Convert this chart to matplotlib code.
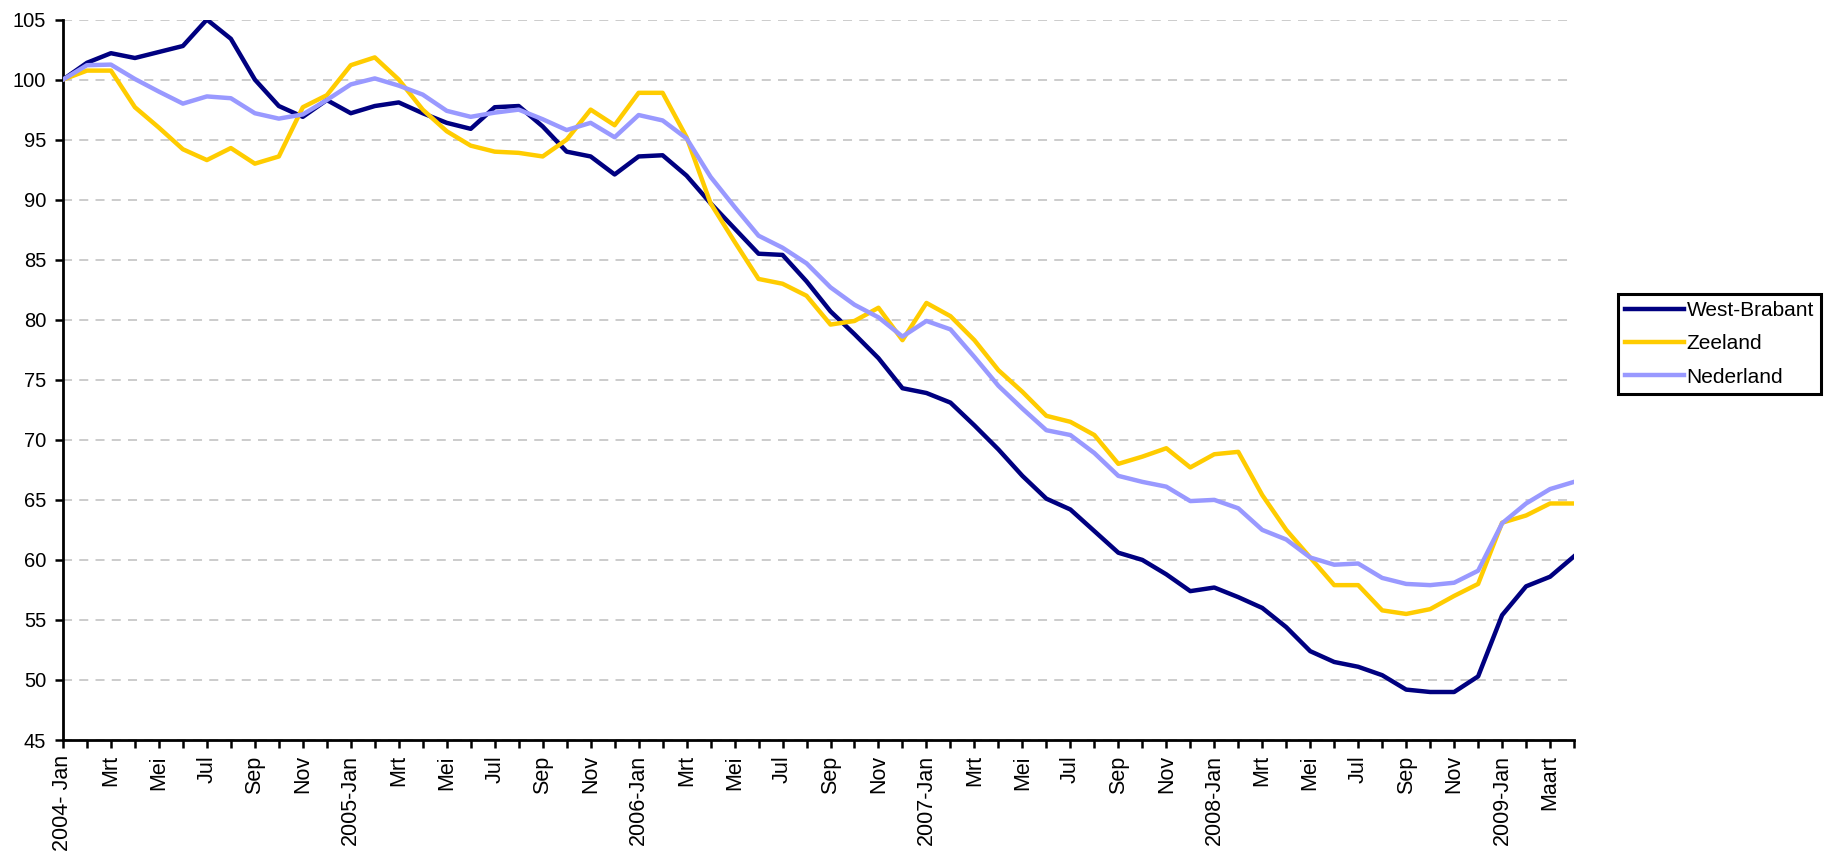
import numpy as np
import matplotlib.pyplot as plt

# maanden (labels om de twee maanden)
maand_labels = ['2004- Jan', 'Mrt', 'Mei', 'Jul', 'Sep', 'Nov',
                '2005-Jan', 'Mrt', 'Mei', 'Jul', 'Sep', 'Nov',
                '2006-Jan', 'Mrt', 'Mei', 'Jul', 'Sep', 'Nov',
                '2007-Jan', 'Mrt', 'Mei', 'Jul', 'Sep', 'Nov',
                '2008-Jan', 'Mrt', 'Mei', 'Jul', 'Sep', 'Nov',
                '2009-Jan', 'Maart']

west_brabant = [100.0, 101.4, 102.2, 101.8, 102.3, 102.8, 105.0, 103.4, 100.0, 97.8,
                96.9, 98.3, 97.2, 97.8, 98.1, 97.2, 96.4, 95.9, 97.7, 97.8,
                96.1, 94.0, 93.6, 92.1, 93.6, 93.7, 92.0, 89.7, 87.6, 85.5,
                85.4, 83.2, 80.7, 78.8, 76.8, 74.3, 73.9, 73.1, 71.2, 69.2,
                67.0, 65.1, 64.2, 62.4, 60.6, 60.0, 58.8, 57.4, 57.7, 56.9,
                56.0, 54.4, 52.4, 51.5, 51.1, 50.4, 49.2, 49.0, 49.0, 50.3,
                55.4, 57.8, 58.6, 60.3]

zeeland = [100.0, 100.75, 100.75, 97.7, 96.0, 94.2, 93.3, 94.3, 93.0, 93.6,
           97.7, 98.7, 101.2, 101.85, 100.0, 97.5, 95.7, 94.5, 94.0, 93.9,
           93.6, 95.0, 97.5, 96.2, 98.9, 98.9, 95.2, 89.7, 86.5, 83.4,
           83.0, 82.0, 79.6, 79.9, 81.0, 78.3, 81.4, 80.3, 78.3, 75.8,
           74.0, 72.0, 71.5, 70.4, 68.0, 68.6, 69.3, 67.7, 68.8, 69.0,
           65.4, 62.5, 60.2, 57.9, 57.9, 55.8, 55.5, 55.9, 57.0, 58.0,
           63.1, 63.7, 64.7, 64.7]

nederland = [100.0, 101.2, 101.25, 100.05, 99.0, 98.0, 98.6, 98.45, 97.2, 96.75,
             97.1, 98.3, 99.6, 100.1, 99.5, 98.75, 97.4, 96.9, 97.25, 97.5,
             96.7, 95.8, 96.4, 95.2, 97.05, 96.6, 95.1, 91.9, 89.4, 87.0,
             86.0, 84.7, 82.7, 81.25, 80.2, 78.6, 79.9, 79.2, 76.9, 74.5,
             72.6, 70.8, 70.4, 68.9, 67.0, 66.5, 66.1, 64.9, 65.0, 64.3,
             62.5, 61.7, 60.2, 59.6, 59.7, 58.5, 58.0, 57.9, 58.1, 59.1,
             63.05, 64.7, 65.9, 66.5]

plt.rcParams['font.family'] = ['Liberation Sans', 'DejaVu Sans']

x = np.arange(len(west_brabant))

fig = plt.figure(figsize=(18.25, 8.51), dpi=100)
ax = fig.add_axes([0.0345, 0.1304, 0.828, 0.8466])

ax.plot(x, west_brabant, color='#000080', linewidth=3.2, label='West-Brabant', zorder=3)
ax.plot(x, zeeland, color='#FFCC00', linewidth=3.2, label='Zeeland', zorder=3)
ax.plot(x, nederland, color='#9999FF', linewidth=3.2, label='Nederland', zorder=3)

ax.set_xlim(0, len(x) - 1)
ax.set_ylim(45, 105)
ax.set_yticks(np.arange(45, 106, 5))
ax.set_xticks(x)
labels = []
for i in x:
    labels.append(maand_labels[i // 2] if i % 2 == 0 else '')
ax.set_xticklabels(labels, rotation=90, fontsize=15.5)
ax.tick_params(axis='y', labelsize=14.5, length=6, width=1.8, direction='out', pad=6)
ax.tick_params(axis='x', length=6, width=1.8, direction='out', pad=5)

ax.grid(axis='y', color='#C8C8C8', linestyle='--', linewidth=1.3, dashes=(5, 4))
ax.set_axisbelow(True)
for s in ['top', 'right']:
    ax.spines[s].set_visible(False)
for s in ['left', 'bottom']:
    ax.spines[s].set_linewidth(2)

leg = fig.legend(loc='upper left', bbox_to_anchor=(1618 / 1825, 1 - 294 / 851),
                 bbox_transform=fig.transFigure, fontsize=15,
                 frameon=True, fancybox=False, handlelength=2.8, handletextpad=0.15,
                 borderpad=0.35, labelspacing=0.68, borderaxespad=0)
leg.get_frame().set_edgecolor('black')
leg.get_frame().set_linewidth(2.2)
leg.get_frame().set_alpha(1)

plt.savefig('out.png', dpi=100)
